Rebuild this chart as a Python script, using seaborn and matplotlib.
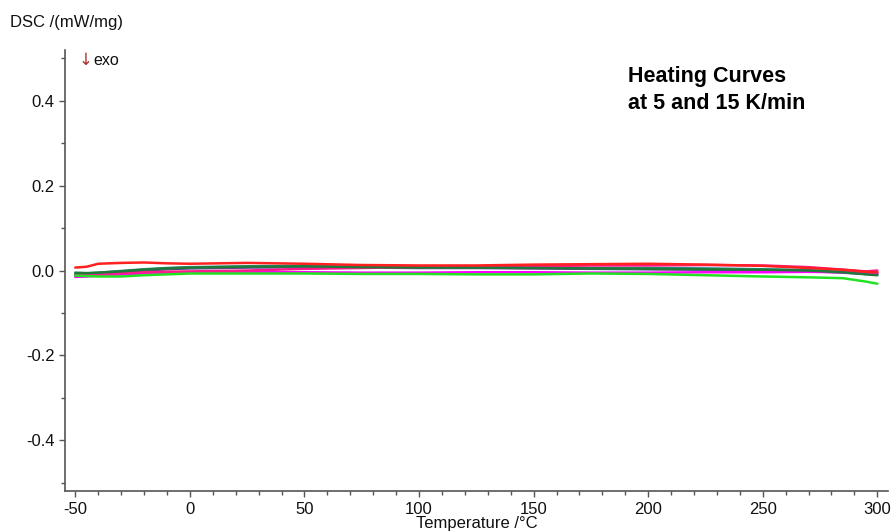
import matplotlib
matplotlib.use("Agg")
import matplotlib.pyplot as plt
from matplotlib.ticker import MultipleLocator
import seaborn as sns
import pandas as pd
import numpy as np

# temperature grid (°C)
temps = [-50, -45, -40, -30, -20, -10, 0, 25, 50, 75, 100, 125, 150, 175, 200, 225, 250, 270, 285, 295, 300]

# DSC curves (mW/mg)
red = [0.007, 0.009, 0.016, 0.018, 0.019, 0.017, 0.016, 0.018, 0.016, 0.013, 0.012, 0.012, 0.014, 0.015, 0.016, 0.014, 0.011, 0.006, 0.002, -0.003, -0.004]
hot_pink = [-0.012, -0.011, -0.009, -0.006, -0.004, -0.003, -0.002, 0.000, 0.004, 0.006, 0.008, 0.009, 0.010, 0.012, 0.012, 0.013, 0.012, 0.008, 0.002, -0.002, 0.000]
magenta = [-0.015, -0.014, -0.012, -0.009, -0.007, -0.006, -0.005, -0.004, -0.004, -0.005, -0.005, -0.004, -0.004, -0.005, -0.005, -0.004, -0.004, -0.003, -0.004, -0.006, -0.005]
green = [-0.012, -0.013, -0.014, -0.014, -0.011, -0.009, -0.007, -0.007, -0.007, -0.008, -0.008, -0.009, -0.009, -0.007, -0.008, -0.011, -0.014, -0.016, -0.018, -0.026, -0.031]
dark_green = [-0.005, -0.006, -0.005, -0.002, 0.002, 0.005, 0.007, 0.009, 0.010, 0.008, 0.007, 0.007, 0.006, 0.005, 0.004, 0.003, 0.002, 0.000, -0.004, -0.009, -0.011]
teal = [-0.008, -0.007, -0.005, -0.001, 0.003, 0.006, 0.008, 0.010, 0.011, 0.009, 0.008, 0.008, 0.007, 0.006, 0.006, 0.005, 0.003, 0.001, -0.003, -0.007, -0.008]
purple = [-0.010, -0.009, -0.008, -0.004, 0.000, 0.003, 0.005, 0.007, 0.008, 0.007, 0.006, 0.006, 0.005, 0.004, 0.003, 0.002, 0.001, -0.001, -0.005, -0.008, -0.009]

series = {
    "purple": purple,
    "teal": teal,
    "magenta": magenta,
    "hot_pink": hot_pink,
    "green": green,
    "dark_green": dark_green,
    "red": red,
}
colors = {
    "purple": "#6a3d9a",
    "teal": "#2a8c8c",
    "magenta": "#ff00ff",
    "hot_pink": "#ff1a8c",
    "green": "#22e322",
    "dark_green": "#1f7a3a",
    "red": "#ff2020",
}

rows = []
for name, vals in series.items():
    for t, v in zip(temps, vals):
        rows.append({"curve": name, "T": t, "DSC": v})
df = pd.DataFrame(rows)

sns.set_style("white")
plt.rcParams["font.family"] = ["Liberation Sans", "DejaVu Sans"]
plt.rcParams["axes.unicode_minus"] = False

fig = plt.figure(figsize=(8.93, 5.31), dpi=100)
ax = fig.add_axes([0.073, 0.075, 0.921, 0.831])

sns.lineplot(data=df, x="T", y="DSC", hue="curve", palette=colors,
             hue_order=list(series.keys()), linewidth=1.8, legend=False, ax=ax)

ax.set_xlim(-54.4, 304.5)
ax.set_ylim(-0.52, 0.52)
ax.xaxis.set_major_locator(MultipleLocator(50))
ax.xaxis.set_minor_locator(MultipleLocator(10))
ax.yaxis.set_major_locator(MultipleLocator(0.2))
ax.yaxis.set_minor_locator(MultipleLocator(0.1))
ax.yaxis.set_major_formatter(plt.FuncFormatter(lambda v, p: f"{v:.1f}"))

for s in ["top", "right"]:
    ax.spines[s].set_visible(False)
for s in ["left", "bottom"]:
    ax.spines[s].set_color("#555555")
    ax.spines[s].set_linewidth(1.2)
ax.tick_params(which="major", direction="out", length=4, width=1, color="#555555",
               labelsize=12, labelcolor="#111111", left=True, bottom=True)
ax.tick_params(which="minor", direction="out", length=3, width=1, color="#555555",
               left=True, bottom=True)

ax.set_xlabel("")
ax.set_ylabel("")
fig.text(0.534, 0.0, "Temperature /°C", ha="center", va="bottom", fontsize=12, color="#111111")
fig.text(0.011, 0.957, "DSC /(mW/mg)", ha="left", va="center", fontsize=12, color="#111111")
fig.text(0.088, 0.887, "↓", ha="left", va="center", fontsize=12, color="#b03030",
         family=["DejaVu Sans"])
fig.text(0.105, 0.887, "exo", ha="left", va="center", fontsize=11.5, color="#111111")

ax.text(0.703, 0.875, "Heating Curves\nat 5 and 15 K/min", transform=fig.transFigure,
        ha="left", va="top", fontsize=15.5, fontweight="bold", color="#000000",
        linespacing=1.35)

fig.savefig("out.png", dpi=100)
